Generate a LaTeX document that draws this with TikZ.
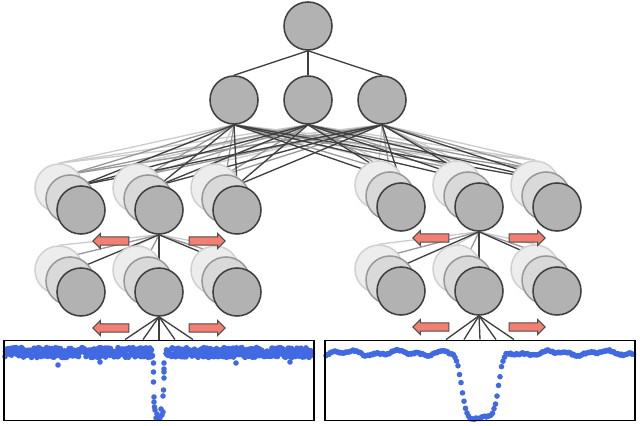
\documentclass[tikz,border=0pt]{standalone}
\usepackage{tikz}
\usetikzlibrary{shapes, calc, backgrounds}
\definecolor{dotblue}{HTML}{4169E1}
\definecolor{shiftred}{HTML}{F27F71}
\def \unitsize {24mm}

\tikzset{
  unit/.style = {circle, draw = black!75, fill = black!30, line width = 2.2pt, minimum size = \unitsize, inner sep = 0},
  ghostnear/.style = {unit, draw = black!40, fill = black!15},
  ghostfar/.style = {unit, draw = black!18, fill = black!7},
  link/.style = {line width = 1.9pt, draw = black!75},
  linknear/.style = {line width = 1.9pt, draw = black!40},
  linkfar/.style = {line width = 1.9pt, draw = black!20},
  slide/.style = {single arrow, draw = black!70, fill = shiftred, line width = 1.5pt, minimum height = 18mm, inner sep = 1.8mm, single arrow head extend = 1.7mm, single arrow head indent = 0mm},
  curvebox/.style = {draw, line width = 2.6pt, minimum width = 155mm, minimum height = 40mm, inner sep = 0},
  pt/.style = {fill = dotblue}
}

\begin{document}
\begin{tikzpicture}[x = 0.5mm, y = -0.5mm]
\useasboundingbox (0, 0) rectangle (640, 426);
\pgfmathsetseed{4}

% output and dense layer
\node (out) [unit] at (308, 26) {};
\node (h1) [unit] at (234, 100) {};
\node (h2) [unit] at (308, 100) {};
\node (h3) [unit] at (382, 100) {};

% two conv branches, each filter with two ghost copies behind it
\foreach \g/\xc/\ya/\yb in {L/159/210/292, R/479/207/291} {
  \foreach \i in {1, 2, 3} {
    \node (a\g\i-far) [ghostfar] at ({\xc + (\i - 2) * 78 - 22}, {\ya - 22}) {};
    \node (a\g\i-near) [ghostnear] at ({\xc + (\i - 2) * 78 - 11}, {\ya - 11}) {};
    \node (a\g\i) [unit] at ({\xc + (\i - 2) * 78}, \ya) {};
    \node (b\g\i-far) [ghostfar] at ({\xc + (\i - 2) * 78 - 22}, {\yb - 22}) {};
    \node (b\g\i-near) [ghostnear] at ({\xc + (\i - 2) * 78 - 11}, {\yb - 11}) {};
    \node (b\g\i) [unit] at ({\xc + (\i - 2) * 78}, \yb) {};
  }
  \node (slide\g a1) [slide, shape border rotate = 180] at ({\xc - 46}, {\ya + 31}) {};
  \node (slide\g a2) [slide] at ({\xc + 46}, {\ya + 31}) {};
  \node (slide\g b1) [slide, shape border rotate = 180] at ({\xc - 46}, {\yb + 36}) {};
  \node (slide\g b2) [slide] at ({\xc + 46}, {\yb + 36}) {};
}

% light curves
\foreach \x in {5, ..., 152} {
  \fill [pt] (\x, {352.5 + 5 * rand}) circle [radius = 1.4mm];
  \fill [pt] (\x + 0.5, {352.5 + 5 * rand}) circle [radius = 1.4mm];
}
\foreach \x in {166, ..., 312} {
  \fill [pt] (\x, {352.5 + 5 * rand}) circle [radius = 1.4mm];
  \fill [pt] (\x + 0.5, {352.5 + 5 * rand}) circle [radius = 1.4mm];
}
\foreach \x/\y in {58/365, 100/362, 236/363, 290/362, 153.5/363, 153.5/372, 153.5/382, 154/397, 154/402, 154.5/407,
  164/363, 164/369, 164/372, 164/378, 163.5/390, 163/396, 155/410, 157/414, 158/417, 160/418, 162/415, 163/412, 161/409, 156/418} {
  \fill [pt] (\x, \y) circle [radius = 1.4mm];
}
\foreach \x in {326, 327.5, ..., 634} {
  \pgfmathsetmacro{\dip}{64 / (1 + exp(max(-9, min(9, (461 - \x) / 2.5)))) / (1 + exp(max(-9, min(9, (\x - 499) / 2.5))))}
  \fill [pt] (\x, {353 + 1.8 * sin(7 * \x) + 1.2 * sin(17 * \x) + 0.8 * rand + \dip}) circle [radius = 1.4mm];
}
\node (lcL) [curvebox] at (159, 380.5) {};
\node (lcR) [curvebox] at (480, 380.5) {};

\begin{pgfonlayer}{background}
\foreach \h in {1, 2, 3} \draw [link] (out.south) -- (h\h.north);
\foreach \h in {1, 2, 3} \foreach \g in {L, R} \foreach \i in {1, 2, 3}
  \draw [linkfar] (h\h.south) -- (a\g\i-far.north);
\foreach \h in {1, 2, 3} \foreach \g in {L, R} \foreach \i in {1, 2, 3}
  \draw [linknear] (h\h.south) -- (a\g\i-near.north);
\foreach \h in {1, 2, 3} \foreach \g in {L, R} \foreach \i in {1, 2, 3}
  \draw [link] (h\h.south) -- (a\g\i.north);
\foreach \g in {L, R} \foreach \i in {1, 2, 3} {
  \draw [linkfar] (a\g2.south) -- (b\g\i-far.north);
  \draw [linknear] (a\g2.south) -- (b\g\i-near.north);
}
\foreach \g in {L, R} \foreach \i in {1, 2, 3}
  \draw [link] (a\g2.south) -- (b\g\i.north);
\foreach \g in {L, R} \foreach \d in {-34, -16, 0, 16, 34}
  \draw [link] (b\g2.south) -- ($(lc\g.north) + (\d, 0)$);
\end{pgfonlayer}

\end{tikzpicture}
\end{document}
